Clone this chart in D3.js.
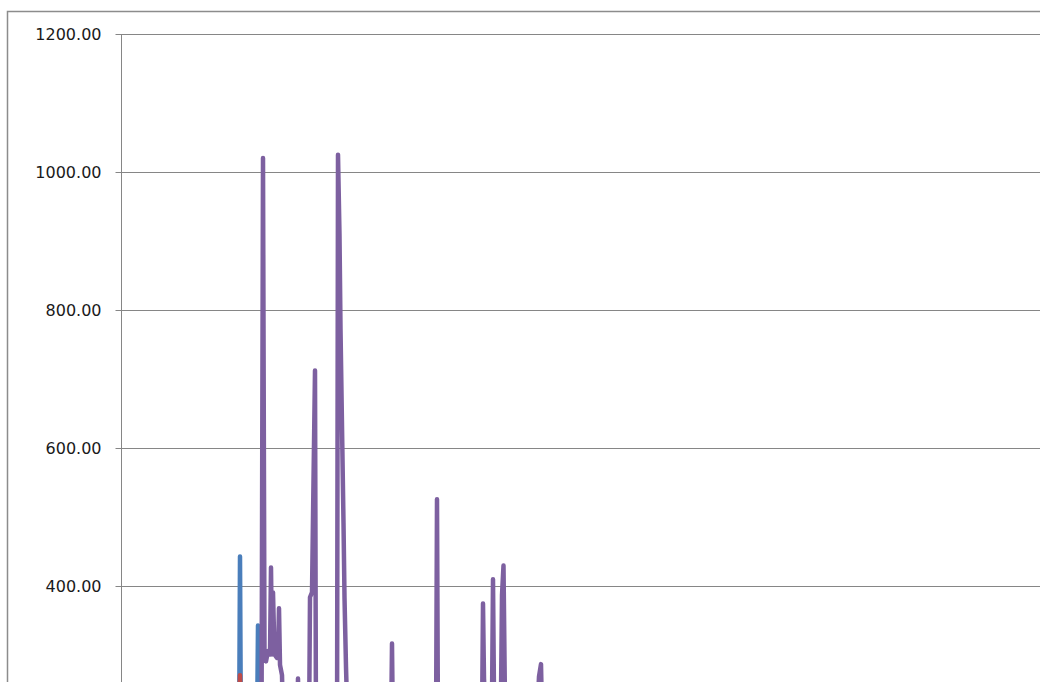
<!DOCTYPE html>
<html>
<head>
<meta charset="utf-8">
<script src="https://cdnjs.cloudflare.com/ajax/libs/d3/7.8.5/d3.min.js"></script>
<style>
	html, body { margin: 0; padding: 0; background: #ffffff; overflow: hidden; }
	svg { display: block; }
</style>
</head>
<body>
<script>
// y axis ticks shown in the picture (lower part of the chart is cut off)
var yTicks = [400, 600, 800, 1000, 1200];

// [category index, value] pairs
var blueSeries = [
	[0, 120], [120, 140], [200, 150], [236, 150], [238, 442], [240, 160],
	[272, 180], [274, 342], [276, 180], [330, 150], [600, 130], [1920, 110]
];

var redSeries = [
	[0, 90], [200, 150], [236, 200], [238, 270], [240, 200],
	[300, 150], [600, 100], [1920, 90]
];

var purpleSeries = [
	[0, 100], [160, 140], [260, 170], [281, 180], [284, 1020], [287, 300],
	[290, 290], [294, 305], [298, 300], [300, 426], [302, 300], [304, 390],
	[307, 300], [312, 295], [314, 300], [316, 367], [318, 285], [322, 270],
	[325, 180],
	[352, 180], [354, 265], [356, 180],
	[376, 180], [378, 383], [382, 390], [388, 712], [390, 180],
	[432, 150], [434, 1025], [437, 908], [439, 773], [445, 491],
	[447, 383], [450, 282], [454, 180],
	[540, 180], [542, 316], [544, 180],
	[630, 180], [632, 525], [634, 180],
	[722, 200], [724, 374], [726, 265], [728, 230],
	[742, 230], [744, 409], [746, 240],
	[760, 240], [762, 386], [765, 429], [768, 230],
	[832, 200], [836, 268], [840, 286], [843, 180],
	[900, 150], [1200, 120], [1920, 100]
];

var w = 1040;
var h = 682;

var svg = d3.select('body')
			.append('svg')
			.attr('width', w)
			.attr('height', h);

// chart area border (runs off the right and bottom of the picture)
svg.append('rect')
	.attr('x', 7.5)
	.attr('y', 11.5)
	.attr('width', 1100)
	.attr('height', 900)
	.attr('fill', '#ffffff')
	.attr('stroke', '#8c8c8c')
	.attr('stroke-width', 1.5);

var x = d3.scaleLinear()
		  .domain([0, 1920])
		  .range([121, 1081]);

var y = d3.scaleLinear()
		  .domain([0, 1200])
		  .range([861.3, 34]);

// gridlines
svg.append('g')
	.selectAll('line')
	.data(yTicks)
	.enter()
	.append('line')
	.attr('x1', 121)
	.attr('x2', 1100)
	.attr('y1', function(d){ return Math.round(y(d)) + 0.5; })
	.attr('y2', function(d){ return Math.round(y(d)) + 0.5; })
	.attr('stroke', '#868686')
	.attr('stroke-width', 1);

// y axis
var yAxis = d3.axisLeft(y)
			  .tickValues(yTicks)
			  .tickSize(6)
			  .tickPadding(14)
			  .tickFormat(d3.format('.2f'));

var gAxis = svg.append('g')
			   .attr('transform', 'translate(121.5,0)')
			   .call(yAxis);

gAxis.select('.domain')
	 .attr('stroke', '#868686')
	 .attr('d', 'M0,' + y(1200) + 'V900');

gAxis.selectAll('.tick line')
	 .attr('stroke', '#868686');

gAxis.selectAll('.tick')
	 .attr('transform', function(d){ return 'translate(0,' + (Math.round(y(d)) + 0.5) + ')'; });

gAxis.selectAll('.tick text')
	 .attr('fill', '#1a1a1a')
	 .attr('font-size', '16px')
	 .attr('font-family', 'DejaVu Sans, Verdana, sans-serif');

var line = d3.line()
			 .x(function(d){ return x(d[0]); })
			 .y(function(d){ return y(d[1]); });

var series = [
	{ data: blueSeries, color: '#4a7ebb' },
	{ data: redSeries, color: '#be4b48' },
	{ data: purpleSeries, color: '#7d60a0' }
];

for(let s of series){
	svg.append('path')
		.datum(s.data)
		.attr('d', line)
		.attr('fill', 'none')
		.attr('stroke', s.color)
		.attr('stroke-width', 4.5)
		.attr('stroke-linejoin', 'round')
		.attr('stroke-linecap', 'round');
}
</script>
</body>
</html>
